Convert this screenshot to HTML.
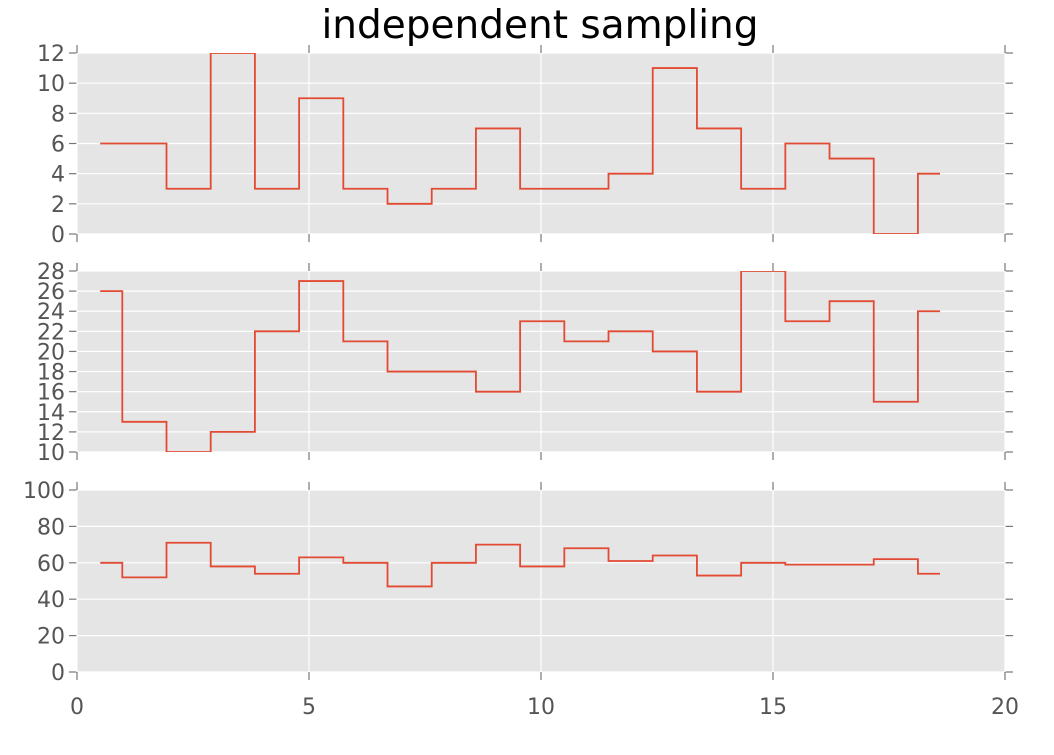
<!DOCTYPE html>
<html><head><meta charset="utf-8"><style>
body{margin:0;background:#fff;}
svg text{font-family:"DejaVu Sans","Liberation Sans",sans-serif;}
</style></head><body>
<svg id="chart" width="1054" height="750" xmlns="http://www.w3.org/2000/svg">
<text x="540" y="38" text-anchor="middle" font-size="39" fill="#000">independent sampling</text>
</svg>
<script>
const xStart = 0.5, xEnd = 18.6;
const series1 = [6,6,3,12,3,9,3,2,3,7,3,3,4,11,7,3,6,5,0,4];
const series2 = [26,13,10,12,22,27,21,18,18,16,23,21,22,20,16,28,23,25,15,24];
const series3 = [60,52,71,58,54,63,60,47,60,70,58,68,61,64,53,60,59,59,62,54];
const xTicks = [0,5,10,15,20];
const yTicks1 = [0,2,4,6,8,10,12];
const yTicks2 = [10,12,14,16,18,20,22,24,26,28];
const yTicks3 = [0,20,40,60,80,100];

const NS="http://www.w3.org/2000/svg";
const svg=document.getElementById('chart');
const X0=77,X1=1005,xMin=0,xMax=20;
const sx=v=>X0+(v-xMin)/(xMax-xMin)*(X1-X0);
function mk(tag,attrs,parent){const e=document.createElementNS(NS,tag);for(const k in attrs)e.setAttribute(k,attrs[k]);(parent||svg).appendChild(e);return e;}

const panels=[
 {data:series1,ticks:yTicks1,top:53,bot:234,ymin:0,ymax:12,name:'panel-1'},
 {data:series2,ticks:yTicks2,top:271,bot:452,ymin:10,ymax:28,name:'panel-2'},
 {data:series3,ticks:yTicks3,top:490,bot:672,ymin:0,ymax:100,name:'panel-3'}
];
panels.forEach((p,pi)=>{
  const g=mk('g',{});
  
  
  const sy=v=>p.bot-(v-p.ymin)/(p.ymax-p.ymin)*(p.bot-p.top);
  const bg=mk('rect',{x:X0,y:p.top,width:X1-X0,height:p.bot-p.top,fill:'#e5e5e5'},g);
  
  
  const cp=mk('clipPath',{id:'clip'+pi},g);
  mk('rect',{x:X0,y:p.top,width:X1-X0,height:p.bot-p.top},cp);
  p.ticks.forEach(t=>{
    const y=sy(t);
    const gl=mk('line',{x1:X0,x2:X1,y1:y,y2:y,stroke:'#fff','stroke-width':1.2},g);
    
    
    mk('line',{x1:X0-8,x2:X0,y1:y,y2:y,stroke:'#777','stroke-width':1.2},g);
    mk('line',{x1:X1,x2:X1+8,y1:y,y2:y,stroke:'#777','stroke-width':1.2},g);
    const tl=mk('text',{x:X0-12,y:y+8,'text-anchor':'end','font-size':22,fill:'#555'},g);
    tl.textContent=t;
    
    
  });
  xTicks.forEach(t=>{
    const x=sx(t);
    const gl=mk('line',{x1:x,x2:x,y1:p.top,y2:p.bot,stroke:'#fff','stroke-width':1.2},g);
    
    
    mk('line',{x1:x,x2:x,y1:p.top-8,y2:p.top,stroke:'#777','stroke-width':1.2},g);
    mk('line',{x1:x,x2:x,y1:p.bot,y2:p.bot+8,stroke:'#777','stroke-width':1.2},g);
  });
  const n=p.data.length, step=(xEnd-xStart)/(n-1);
  let d='';
  p.data.forEach((v,i)=>{
    const xa=i===0?xStart:xStart+(i-0.5)*step;
    const xb=i===n-1?xEnd:xStart+(i+0.5)*step;
    d+=(i===0?'M':'L')+sx(xa)+','+sy(v)+'L'+sx(xb)+','+sy(v);
  });
  const path=mk('path',{d:d,fill:'none',stroke:'#e24a33','stroke-width':1.8,'clip-path':'url(#clip'+pi+')'},g);
  
  
  if(pi===2){
    xTicks.forEach(t=>{
      const tl=mk('text',{x:sx(t),y:714,'text-anchor':'middle','font-size':22,fill:'#555'},g);
      tl.textContent=t;
      
      
    });
  }
});
</script>
</body></html>
